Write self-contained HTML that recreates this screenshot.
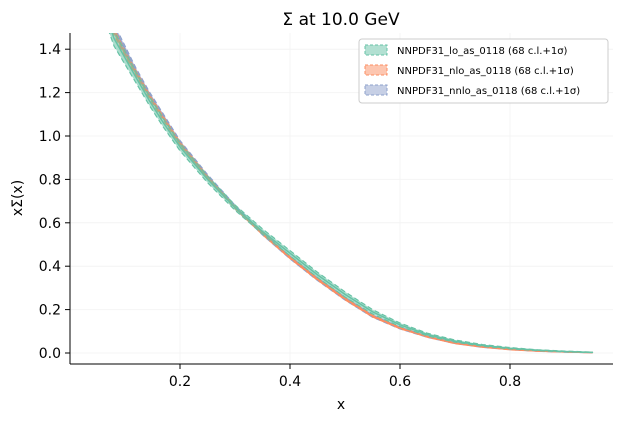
<!DOCTYPE html>
<html><head><meta charset="utf-8"><style>
body{margin:0;background:#fff;}
svg{font-family:"DejaVu Sans","Liberation Sans",sans-serif;}
</style></head><body>
<svg id="chart" width="622" height="420" viewBox="0 0 622 420">
<text x="341" y="25" font-size="17" text-anchor="middle">Σ at 10.0 GeV</text>
<g id="grid"></g>
<defs><clipPath id="clip"><rect x="70" y="33" width="543" height="331"/></clipPath></defs>
<g id="bands" clip-path="url(#clip)"></g>
<g id="axes"></g>
<text x="341" y="409" font-size="14" text-anchor="middle">x</text>
<text x="22" y="198" font-size="14" text-anchor="middle" transform="rotate(-90 22 198)">xΣ(x)</text>
<g>
<rect x="359" y="39" width="249" height="64" rx="3" fill="#fff" stroke="#ccc"/>
<g><rect x="365" y="45" width="22" height="10" fill="#66c2a5" fill-opacity="0.5" stroke="#66c2a5" stroke-dasharray="3,2"/><text x="397" y="54" font-size="10">NNPDF31_lo_as_0118 (68 c.l.+1σ)</text></g>
<g><rect x="365" y="65" width="22" height="10" fill="#fc8d62" fill-opacity="0.5" stroke="#fc8d62" stroke-dasharray="3,2"/><text x="397" y="74" font-size="10">NNPDF31_nlo_as_0118 (68 c.l.+1σ)</text></g>
<g><rect x="365" y="85" width="22" height="10" fill="#8da0cb" fill-opacity="0.5" stroke="#8da0cb" stroke-dasharray="3,2"/><text x="397" y="94" font-size="10">NNPDF31_nnlo_as_0118 (68 c.l.+1σ)</text></g>
</g>
</svg>
<script>
const xs = [0.06,0.08,0.1,0.12,0.145,0.17,0.2,0.25,0.3,0.35,0.4,0.45,0.5,0.55,0.6,0.65,0.7,0.75,0.8,0.85,0.9,0.95];
const loVals = [1.60,1.45,1.36,1.27,1.16,1.06,0.95,0.80,0.67,0.56,0.46,0.36,0.27,0.19,0.13,0.085,0.055,0.035,0.022,0.013,0.007,0.003];
const nloVals = [1.63,1.48,1.38,1.29,1.18,1.08,0.965,0.81,0.67,0.55,0.44,0.34,0.25,0.17,0.115,0.075,0.045,0.028,0.016,0.009,0.005,0.002];
const nnloVals = [1.65,1.50,1.40,1.30,1.19,1.09,0.97,0.815,0.675,0.55,0.44,0.34,0.25,0.17,0.115,0.075,0.046,0.028,0.017,0.009,0.005,0.002];
const loErr = [0.04,0.035,0.03,0.025,0.022,0.02,0.018,0.015,0.012,0.012,0.012,0.012,0.012,0.01,0.008,0.006,0.005,0.004,0.003,0.002,0.002,0.001];
const xTicks = [0.2,0.4,0.6,0.8];
const yTicks = [0.0,0.2,0.4,0.6,0.8,1.0,1.2,1.4];
const X = v => 70 + v*550;
const Y = v => 353 - v*217;
const ns = "http://www.w3.org/2000/svg";
function mk(tag, attrs, parent){const e=document.createElementNS(ns,tag);for(const k in attrs)e.setAttribute(k,attrs[k]);parent.appendChild(e);return e;}
const grid=document.getElementById('grid'), axes=document.getElementById('axes'), bands=document.getElementById('bands');
xTicks.forEach(t=>{
  const g=mk('line',{x1:X(t),x2:X(t),y1:33,y2:364,stroke:'#f4f4f4'},grid);
  
  
  const tk=mk('line',{x1:X(t),x2:X(t),y1:364,y2:369,stroke:'#000'},axes);
  
  
  const lb=mk('text',{x:X(t),y:386,'font-size':14,'text-anchor':'middle'},axes);
  lb.textContent=t.toFixed(1);
  
  
});
yTicks.forEach(t=>{
  const g=mk('line',{x1:70,x2:613,y1:Y(t),y2:Y(t),stroke:'#f4f4f4'},grid);
  
  
  const tk=mk('line',{x1:65,x2:70,y1:Y(t),y2:Y(t),stroke:'#000'},axes);
  
  
  const lb=mk('text',{x:61,y:Y(t)+5,'font-size':14,'text-anchor':'end'},axes);
  lb.textContent=t.toFixed(1);
  
  
});
const sl=mk('line',{x1:70,x2:70,y1:33,y2:364,stroke:'#000'},axes);


const sb=mk('line',{x1:70,x2:613,y1:364,y2:364,stroke:'#000'},axes);


function band(vals, errScale, color, name){
  const up=xs.map((x,i)=>X(x)+','+Y(vals[i]+loErr[i]*errScale));
  const dn=xs.map((x,i)=>X(x)+','+Y(vals[i]-loErr[i]*errScale)).reverse();
  const p=mk('polygon',{points:up.concat(dn).join(' '),fill:color,'fill-opacity':0.55,stroke:color,'stroke-dasharray':'5,3','stroke-width':1.2,'stroke-linejoin':'round'},bands);
  
  
  const l=mk('polyline',{points:xs.map((x,i)=>X(x)+','+Y(vals[i])).join(' '),fill:'none',stroke:color,'stroke-width':1.5,'stroke-linejoin':'round'},bands);
  
  
}
band(nnloVals,0.5,'#8da0cb','nnlo');
band(nloVals,0.4,'#fc8d62','nlo');
band(loVals,1,'#66c2a5','lo');
</script>
</body></html>
